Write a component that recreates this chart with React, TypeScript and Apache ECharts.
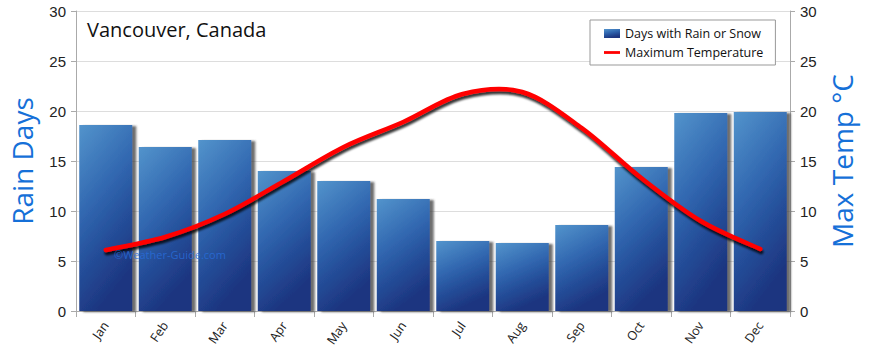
import React, { useEffect, useRef } from "react";
import * as echarts from "echarts";

const months = ["Jan", "Feb", "Mar", "Apr", "May", "Jun", "Jul", "Aug", "Sep", "Oct", "Nov", "Dec"];
const rainDays = [18.6, 16.4, 17.1, 14.0, 13.0, 11.2, 7.0, 6.8, 8.6, 14.4, 19.8, 19.9];
const maxTemp = [6.1, 7.4, 9.7, 13.0, 16.4, 18.9, 21.7, 21.9, 18.3, 13.3, 9.0, 6.2];
const axisTicks = { min: 0, max: 30, interval: 5 };

const barColor = new echarts.graphic.LinearGradient(0, 0, 0.35, 1, [
  { offset: 0, color: "#5394cc" },
  { offset: 0.45, color: "#3167b0" },
  { offset: 0.7, color: "#254f9a" },
  { offset: 1, color: "#1d3580" },
]);

function renderSpline(params: any, api: any) {
  if (params.dataIndex !== 0) return null;
  const pts = maxTemp.map((v, i) => api.coord([i, v]));
  const n = pts.length;
  let d = `M${pts[0][0]},${pts[0][1]}`;
  for (let i = 0; i < n - 1; i++) {
    const p0 = pts[Math.max(i - 1, 0)];
    const p1 = pts[i];
    const p2 = pts[i + 1];
    const p3 = pts[Math.min(i + 2, n - 1)];
    const c1x = p1[0] + (p2[0] - p0[0]) / 6;
    const c1y = p1[1] + (p2[1] - p0[1]) / 6;
    const c2x = p2[0] - (p3[0] - p1[0]) / 6;
    const c2y = p2[1] - (p3[1] - p1[1]) / 6;
    d += ` C${c1x},${c1y} ${c2x},${c2y} ${p2[0]},${p2[1]}`;
  }
  return {
    type: "path",
    shape: { pathData: d },
    style: {
      fill: "none",
      stroke: "#ff0000",
      lineWidth: 4.5,
      lineCap: "round",
      shadowColor: "rgba(0,0,0,0.8)",
      shadowOffsetX: 1,
      shadowOffsetY: 3,
      shadowBlur: 2,
    },
  };
}

export default function App() {
  const ref = useRef<HTMLDivElement>(null);
  useEffect(() => {
    if (!ref.current) return;
    const chart = echarts.init(ref.current, null, { renderer: "svg" });
    const tickFont = { fontFamily: "Liberation Sans", fontSize: 15, color: "#222" };
    const nameStyle = { fontFamily: "Open Sans", fontSize: 28, color: "#1570d8" };
    chart.setOption({
      animation: false,
      backgroundColor: "#fff",
      title: {
        text: "Vancouver, Canada",
        left: 82,
        top: 14,
        textStyle: { fontFamily: "Open Sans", fontSize: 20, fontWeight: "normal", color: "#111" },
      },
      legend: {
        orient: "vertical",
        left: 590,
        top: 20,
        padding: [7, 12, 6, 14],
        itemGap: 6,
        itemWidth: 16,
        itemHeight: 9,
        borderColor: "#999",
        borderWidth: 1,
        backgroundColor: "#fff",
        textStyle: { fontFamily: "Open Sans", fontSize: 12.5, color: "#111" },
        data: [
          { name: "Days with Rain or Snow", icon: "rect" },
          { name: "Maximum Temperature", icon: "path://M0,0L20,0L20,3.5L0,3.5Z" },
        ],
      },
      grid: { left: 74, right: 80, top: 11, bottom: 41, containLabel: false },
      xAxis: {
        type: "category",
        data: months,
        axisLine: { lineStyle: { color: "#aaa" } },
        axisTick: { show: true, length: 6, lineStyle: { color: "#aaa" } },
        axisLabel: { rotate: 55, fontFamily: "Open Sans", fontSize: 12.5, color: "#222", margin: 12 },
      },
      yAxis: [
        {
          type: "value",
          ...axisTicks,
          name: "Rain Days",
          nameLocation: "middle",
          nameGap: 40,
          nameTextStyle: nameStyle,
          axisLine: { show: true, lineStyle: { color: "#aaa" } },
          axisTick: { show: true, length: 5, lineStyle: { color: "#aaa" } },
          axisLabel: { ...tickFont, margin: 10 },
          splitLine: { lineStyle: { color: "#ddd" } },
        },
        {
          type: "value",
          ...axisTicks,
          name: "Max Temp °C",
          nameLocation: "middle",
          nameRotate: 90,
          nameGap: 38,
          nameTextStyle: nameStyle,
          position: "right",
          axisLine: { show: true, lineStyle: { color: "#aaa" } },
          axisTick: { show: true, length: 5, lineStyle: { color: "#aaa" } },
          axisLabel: { ...tickFont, margin: 10 },
          splitLine: { show: false },
        },
      ],
      series: [
        {
          name: "Days with Rain or Snow",
          type: "bar",
          data: rainDays,
          barWidth: 53,
          itemStyle: {
            color: barColor,
            shadowColor: "rgba(60,60,60,0.75)",
            shadowOffsetX: 4,
            shadowOffsetY: 1,
            shadowBlur: 2,
          },
        },
        {
          name: "Maximum Temperature",
          type: "custom",
          yAxisIndex: 1,
          data: maxTemp.map((v, i) => [i, v]),
          encode: { x: 0, y: 1 },
          renderItem: renderSpline,
          z: 5,
          clip: false,
          itemStyle: { color: "#ff0000" },
        },
      ],
      graphic: [
        {
          type: "text",
          left: 114,
          top: 249,
          z: 100,
          style: {
            text: "©Weather-Guide.com",
            fill: "rgba(40,110,220,0.8)",
            fontFamily: "Open Sans",
            fontSize: 11,
          },
        },
      ],
    });
    return () => chart.dispose();
  }, []);
  return (
    <div
      ref={ref}
      style={{ position: "absolute", left: 0, top: 0, width: 870, height: 352 }}
    />
  );
}
